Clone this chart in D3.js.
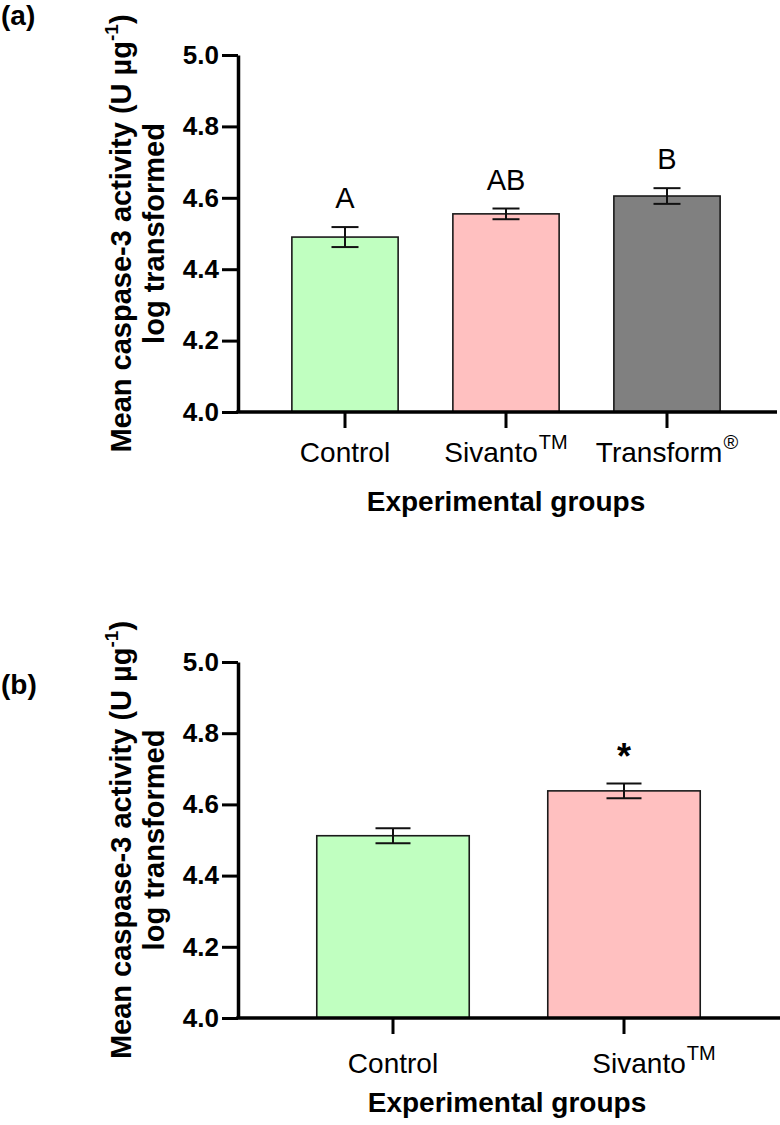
<!DOCTYPE html>
<html><head><meta charset="utf-8">
<script src="https://cdn.jsdelivr.net/npm/d3@7"></script>
<style>
body{margin:0;background:#fff}
svg{display:block}
text{font-family:"Liberation Sans", Arial, Helvetica, sans-serif; fill:#000}
</style>
</head><body>
<script>
// ---------- data ----------
const categoriesA = ["Control", "Sivanto", "Transform"];
const superscriptsA = ["", "TM", "®"];
const meansA = [4.49, 4.555, 4.605];
const errorsA = [0.028, 0.015, 0.022];
const lettersA = ["A", "AB", "B"];
const colorsA = ["#c0ffc0", "#ffc0c0", "#808080"];

const categoriesB = ["Control", "Sivanto"];
const superscriptsB = ["", "TM"];
const meansB = [4.512, 4.638];
const errorsB = [0.021, 0.021];
const lettersB = ["", "*"];
const colorsB = ["#c0ffc0", "#ffc0c0"];

const yDomain = [4.0, 5.0];
const yTickValues = [4.0, 4.2, 4.4, 4.6, 4.8, 5.0];
const panelLabels = ["(a)", "(b)"];
const xTitle = "Experimental groups";
const yTitleMain = "Mean caspase-3 activity (U µg";
const yTitleSup = "-1";
const yTitleEnd = ")";
const yTitle2 = "log transformed";

// ---------- drawing ----------
const W = 780, H = 1125;
const svg = d3.select("body").append("svg").attr("width", W).attr("height", H);

function drawPanel(cfg) {
  const g = svg.append("g");
  const y = d3.scaleLinear().domain(yDomain).range([cfg.bottom, cfg.top]);
  const x = d3.scaleBand().domain(cfg.cats).range(cfg.band)
    .paddingInner(0.34).paddingOuter(0.17);
  const data = cfg.cats.map((c, i) => ({
    cat: c, sup: cfg.sups[i], mean: cfg.means[i], err: cfg.errs[i],
    letter: cfg.letters[i], color: cfg.colors[i]
  }));

  // bars
  g.selectAll("rect.bar").data(data).join("rect")
    .attr("class", "bar")
    .attr("x", d => x(d.cat))
    .attr("y", d => y(d.mean))
    .attr("width", x.bandwidth())
    .attr("height", d => y(yDomain[0]) - y(d.mean))
    .attr("fill", d => d.color)
    .attr("stroke", "#1a1a1a")
    .attr("stroke-width", 1.6);

  // error bars
  const eb = g.selectAll("g.eb").data(data).join("g").attr("class", "eb")
    .attr("stroke", "#111").attr("stroke-width", 2);
  eb.append("line")
    .attr("x1", d => x(d.cat) + x.bandwidth() / 2)
    .attr("x2", d => x(d.cat) + x.bandwidth() / 2)
    .attr("y1", d => y(d.mean - d.err))
    .attr("y2", d => y(d.mean + d.err));
  eb.append("line")
    .attr("x1", d => x(d.cat) + x.bandwidth() / 2 - cfg.cap / 2)
    .attr("x2", d => x(d.cat) + x.bandwidth() / 2 + cfg.cap / 2)
    .attr("y1", d => y(d.mean + d.err))
    .attr("y2", d => y(d.mean + d.err));
  eb.append("line")
    .attr("x1", d => x(d.cat) + x.bandwidth() / 2 - cfg.cap / 2)
    .attr("x2", d => x(d.cat) + x.bandwidth() / 2 + cfg.cap / 2)
    .attr("y1", d => y(d.mean - d.err))
    .attr("y2", d => y(d.mean - d.err));

  // significance letters
  g.selectAll("text.letter").data(data).join("text")
    .attr("class", "letter")
    .attr("x", d => x(d.cat) + x.bandwidth() / 2)
    .attr("y", d => y(d.mean + d.err) - cfg.letterGap)
    .attr("text-anchor", "middle")
    .attr("font-size", cfg.letterSize)
    .attr("font-weight", cfg.letterBold ? "bold" : "normal")
    .text(d => d.letter);

  // y axis
  const yAxis = d3.axisLeft(y).tickValues(yTickValues)
    .tickFormat(d3.format(".1f")).tickSize(16).tickSizeOuter(0).tickPadding(3);
  const ya = g.append("g").attr("transform", `translate(${cfg.axisX},0)`).call(yAxis);
  ya.select(".domain").attr("stroke", "#000").attr("stroke-width", 3.5);
  ya.selectAll(".tick line").attr("stroke", "#000").attr("stroke-width", 3);
  ya.selectAll(".tick text")
    .attr("font-family", '"Liberation Sans", Arial, sans-serif')
    .attr("font-size", 26).attr("font-weight", "bold").attr("fill", "#000");

  // x axis
  const xAxis = d3.axisBottom(x).tickSize(16).tickSizeOuter(0).tickFormat(() => "");
  const xa = g.append("g").attr("transform", `translate(0,${y(yDomain[0])})`).call(xAxis);
  xa.select(".domain").remove();
  xa.selectAll(".tick line").attr("stroke", "#000").attr("stroke-width", 3);
  g.append("line")
    .attr("x1", cfg.axisX - 1.75).attr("x2", cfg.axisEnd)
    .attr("y1", y(yDomain[0])).attr("y2", y(yDomain[0]))
    .attr("stroke", "#000").attr("stroke-width", 3.5);

  // category labels
  const lbl = g.selectAll("text.cat").data(data).join("text")
    .attr("class", "cat")
    .attr("x", (d, i) => x(d.cat) + x.bandwidth() / 2 + cfg.labelDx[i])
    .attr("y", y(yDomain[0]) + cfg.labelOffset)
    .attr("text-anchor", "middle")
    .attr("font-size", 28);
  lbl.append("tspan").text(d => d.cat);
  lbl.filter(d => d.sup).append("tspan")
    .attr("font-size", 20).attr("dy", -13).attr("dx", 1)
    .text(d => d.sup);

  // x title
  g.append("text")
    .attr("x", cfg.xTitleX)
    .attr("y", y(yDomain[0]) + cfg.xTitleOffset)
    .attr("text-anchor", "middle")
    .attr("font-size", 28).attr("font-weight", "bold")
    .text(xTitle);

  // y title (two lines, rotated)
  const cy = (cfg.top + cfg.bottom) / 2;
  const t1 = g.append("text")
    .attr("transform", `translate(${cfg.yTitleX1},${cy}) rotate(-90)`)
    .attr("text-anchor", "middle")
    .attr("font-size", 29).attr("font-weight", "bold");
  t1.append("tspan").text(yTitleMain);
  t1.append("tspan").attr("font-size", 19).attr("dy", -13).text(yTitleSup);
  t1.append("tspan").attr("dy", 13).text(yTitleEnd);
  g.append("text")
    .attr("transform", `translate(${cfg.yTitleX2},${cy}) rotate(-90)`)
    .attr("text-anchor", "middle")
    .attr("font-size", 29).attr("font-weight", "bold")
    .text(yTitle2);

  // panel label
  g.append("text")
    .attr("x", 1).attr("y", cfg.panelLabelY)
    .attr("font-size", 28).attr("font-weight", "bold")
    .text(cfg.panelLabel);
}

drawPanel({
  cats: categoriesA, sups: superscriptsA, means: meansA, errs: errorsA,
  letters: lettersA, colors: colorsA, letterBold: false, letterSize: 29,
  top: 55, bottom: 412, band: [264.5, 747.5], axisX: 238, axisEnd: 777,
  cap: 27, letterGap: 19, labelOffset: 50, labelDx: [0, 0, 0],
  xTitleX: 506, xTitleOffset: 99, yTitleX1: 131, yTitleX2: 164,
  panelLabel: panelLabels[0], panelLabelY: 25
});

drawPanel({
  cats: categoriesB, sups: superscriptsB, means: meansB, errs: errorsB,
  letters: lettersB, colors: colorsB, letterBold: true, letterSize: 36,
  top: 662, bottom: 1018, band: [277.5, 739.5], axisX: 238, axisEnd: 780,
  cap: 35, letterGap: 14, labelOffset: 55, labelDx: [0, 30],
  xTitleX: 507, xTitleOffset: 94, yTitleX1: 131, yTitleX2: 164,
  panelLabel: panelLabels[1], panelLabelY: 694
});
</script>
</body></html>
